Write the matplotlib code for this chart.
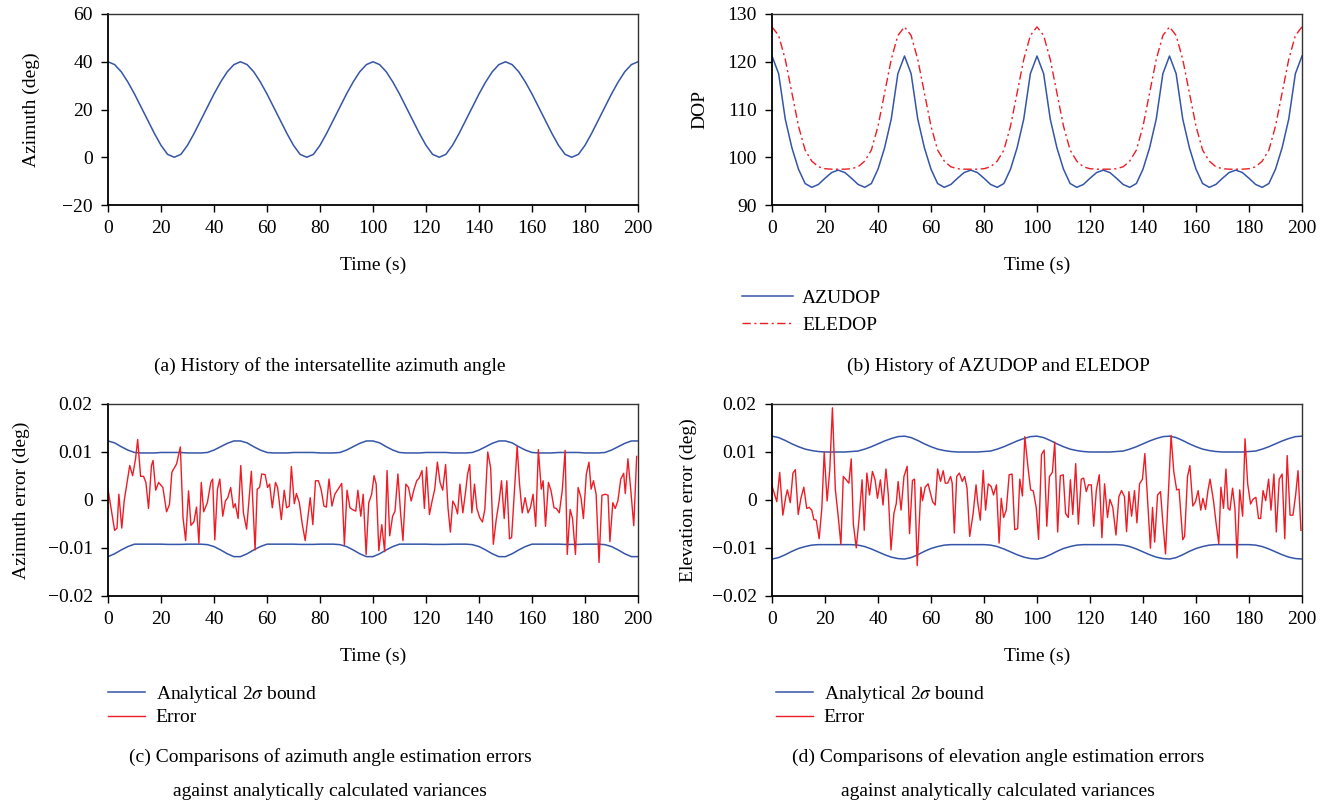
"""Intersatellite azimuth, DOP history and angle estimation errors (4 panels)."""

import matplotlib as mpl

mpl.use("Agg")

import matplotlib.pyplot as plt
import numpy as np
from matplotlib.lines import Line2D

plt.rcParams["font.family"] = ["Liberation Serif", "DejaVu Serif"]
plt.rcParams["mathtext.fontset"] = "stix"

BLUE = "#3555a8"
RED = "#ee1c25"

# ---- data ---------------------------------------------------------------
time_grid = np.arange(0, 200.01, 2.5)  # 81 samples, 2.5 s apart

azimuth_deg = [
    40.0, 38.8, 35.8, 31.5, 26.5, 21.0, 15.5, 10.0, 5.0, 1.2,
    0.0, 1.2, 5.0, 10.0, 15.5, 21.0, 26.5, 31.5, 35.8, 38.8,
    40.0, 38.8, 35.8, 31.5, 26.5, 21.0, 15.5, 10.0, 5.0, 1.2,
    0.0, 1.2, 5.0, 10.0, 15.5, 21.0, 26.5, 31.5, 35.8, 38.8,
    40.0, 38.8, 35.8, 31.5, 26.5, 21.0, 15.5, 10.0, 5.0, 1.2,
    0.0, 1.2, 5.0, 10.0, 15.5, 21.0, 26.5, 31.5, 35.8, 38.8,
    40.0, 38.8, 35.8, 31.5, 26.5, 21.0, 15.5, 10.0, 5.0, 1.2,
    0.0, 1.2, 5.0, 10.0, 15.5, 21.0, 26.5, 31.5, 35.8, 38.8,
    40.0,
]

azudop = [
    121.2, 117.5, 108.0, 102.0, 97.5, 94.5, 93.7, 94.3, 95.6, 96.8,
    97.3, 96.8, 95.6, 94.3, 93.7, 94.5, 97.5, 102.0, 108.0, 117.5,
    121.2, 117.5, 108.0, 102.0, 97.5, 94.5, 93.7, 94.3, 95.6, 96.8,
    97.3, 96.8, 95.6, 94.3, 93.7, 94.5, 97.5, 102.0, 108.0, 117.5,
    121.2, 117.5, 108.0, 102.0, 97.5, 94.5, 93.7, 94.3, 95.6, 96.8,
    97.3, 96.8, 95.6, 94.3, 93.7, 94.5, 97.5, 102.0, 108.0, 117.5,
    121.2, 117.5, 108.0, 102.0, 97.5, 94.5, 93.7, 94.3, 95.6, 96.8,
    97.3, 96.8, 95.6, 94.3, 93.7, 94.5, 97.5, 102.0, 108.0, 117.5,
    121.2,
]

eledop = [
    127.3, 125.5, 120.5, 113.5, 106.5, 101.5, 99.2, 98.0, 97.6, 97.5,
    97.5, 97.5, 97.6, 98.0, 99.2, 101.5, 106.5, 113.5, 120.5, 125.5,
    127.3, 125.5, 120.5, 113.5, 106.5, 101.5, 99.2, 98.0, 97.6, 97.5,
    97.5, 97.5, 97.6, 98.0, 99.2, 101.5, 106.5, 113.5, 120.5, 125.5,
    127.3, 125.5, 120.5, 113.5, 106.5, 101.5, 99.2, 98.0, 97.6, 97.5,
    97.5, 97.5, 97.6, 98.0, 99.2, 101.5, 106.5, 113.5, 120.5, 125.5,
    127.3, 125.5, 120.5, 113.5, 106.5, 101.5, 99.2, 98.0, 97.6, 97.5,
    97.5, 97.5, 97.6, 98.0, 99.2, 101.5, 106.5, 113.5, 120.5, 125.5,
    127.3,
]

# 2-sigma bounds, in millidegrees
az_upper_mdeg = [
    12.3, 11.9, 11.1, 10.4, 9.9, 9.8, 9.8, 9.8, 9.9, 9.9,
    9.9, 9.9, 9.8, 9.8, 9.8, 9.9, 10.4, 11.1, 11.8, 12.3,
    12.3, 11.9, 11.1, 10.4, 9.9, 9.8, 9.8, 9.8, 9.9, 9.9,
    9.9, 9.9, 9.8, 9.8, 9.8, 9.9, 10.4, 11.1, 11.8, 12.3,
    12.3, 11.9, 11.1, 10.4, 9.9, 9.8, 9.8, 9.8, 9.9, 9.9,
    9.9, 9.9, 9.8, 9.8, 9.8, 9.9, 10.4, 11.1, 11.8, 12.3,
    12.3, 11.9, 11.1, 10.4, 9.9, 9.8, 9.8, 9.8, 9.9, 9.9,
    9.9, 9.9, 9.8, 9.8, 9.8, 9.9, 10.4, 11.1, 11.8, 12.3,
    12.3,
]
az_lower_mdeg = [
    -11.8, -11.2, -10.4, -9.7, -9.2, -9.2, -9.2, -9.2, -9.2, -9.25,
    -9.25, -9.25, -9.2, -9.2, -9.2, -9.3, -9.7, -10.4, -11.2, -11.8,
    -11.8, -11.2, -10.4, -9.7, -9.2, -9.2, -9.2, -9.2, -9.2, -9.25,
    -9.25, -9.25, -9.2, -9.2, -9.2, -9.3, -9.7, -10.4, -11.2, -11.8,
    -11.8, -11.2, -10.4, -9.7, -9.2, -9.2, -9.2, -9.2, -9.2, -9.25,
    -9.25, -9.25, -9.2, -9.2, -9.2, -9.3, -9.7, -10.4, -11.2, -11.8,
    -11.8, -11.2, -10.4, -9.7, -9.2, -9.2, -9.2, -9.2, -9.2, -9.25,
    -9.25, -9.25, -9.2, -9.2, -9.2, -9.3, -9.7, -10.4, -11.2, -11.8,
    -11.8,
]
el_upper_mdeg = [
    13.3, 13.0, 12.4, 11.7, 11.1, 10.6, 10.3, 10.1, 10.0, 10.0,
    10.0, 10.0, 10.1, 10.2, 10.6, 11.1, 11.7, 12.3, 12.8, 13.2,
    13.3, 13.0, 12.4, 11.7, 11.1, 10.6, 10.3, 10.1, 10.0, 10.0,
    10.0, 10.0, 10.1, 10.2, 10.6, 11.1, 11.7, 12.3, 12.8, 13.2,
    13.3, 13.0, 12.4, 11.7, 11.1, 10.6, 10.3, 10.1, 10.0, 10.0,
    10.0, 10.0, 10.1, 10.2, 10.6, 11.1, 11.7, 12.3, 12.8, 13.2,
    13.3, 13.0, 12.4, 11.7, 11.1, 10.6, 10.3, 10.1, 10.0, 10.0,
    10.0, 10.0, 10.1, 10.2, 10.6, 11.1, 11.7, 12.3, 12.8, 13.2,
    13.3,
]
el_lower_mdeg = [
    -12.3, -12.0, -11.4, -10.7, -10.1, -9.7, -9.4, -9.3, -9.3, -9.3,
    -9.3, -9.3, -9.3, -9.4, -9.7, -10.2, -10.8, -11.4, -11.9, -12.2,
    -12.3, -12.0, -11.4, -10.7, -10.1, -9.7, -9.4, -9.3, -9.3, -9.3,
    -9.3, -9.3, -9.3, -9.4, -9.7, -10.2, -10.8, -11.4, -11.9, -12.2,
    -12.3, -12.0, -11.4, -10.7, -10.1, -9.7, -9.4, -9.3, -9.3, -9.3,
    -9.3, -9.3, -9.3, -9.4, -9.7, -10.2, -10.8, -11.4, -11.9, -12.2,
    -12.3, -12.0, -11.4, -10.7, -10.1, -9.7, -9.4, -9.3, -9.3, -9.3,
    -9.3, -9.3, -9.3, -9.4, -9.7, -10.2, -10.8, -11.4, -11.9, -12.2,
    -12.3,
]

# estimation errors (time in s, error in millidegrees)
az_err_time = [
    0.0, 2.5, 3.4, 4.1, 5.2, 6.1, 8.2, 9.3, 10.4, 11.2,
    12.3, 13.4, 14.3, 15.3, 16.4, 17.0, 18.0, 19.1, 20.7, 22.1,
    23.2, 24.1, 25.9, 27.3, 28.3, 29.3, 30.4, 31.3, 32.4, 33.4,
    34.3, 35.2, 36.1, 37.5, 38.8, 39.5, 40.3, 41.3, 42.2, 43.3,
    44.3, 45.2, 46.3, 47.3, 48.0, 49.1, 50.1, 51.1, 52.3, 54.1,
    55.5, 56.3, 57.2, 58.0, 59.3, 60.2, 61.0, 62.0, 63.2, 64.0,
    65.4, 66.5, 67.4, 68.4, 69.2, 70.3, 71.1, 72.2, 73.3, 74.4,
    76.3, 77.3, 78.3, 79.4, 80.4, 81.5, 82.4, 83.4, 84.5, 85.6,
    87.2, 88.2, 89.2, 90.2, 91.3, 92.6, 93.5, 94.3, 95.4, 96.3,
    97.4, 98.4, 99.5, 100.4, 101.2, 102.2, 103.3, 104.4, 105.3, 106.3,
    107.4, 108.3, 109.4, 110.4, 111.3, 112.4, 113.4, 114.4, 115.5, 116.5,
    117.4, 118.5, 119.4, 120.2, 121.3, 122.3, 123.3, 124.3, 125.3, 126.3,
    127.4, 128.3, 129.2, 130.1, 131.1, 131.9, 132.8, 133.9, 134.9, 135.7,
    136.5, 137.3, 138.3, 139.2, 140.3, 141.3, 142.2, 143.3, 144.4, 145.4,
    146.5, 147.6, 148.5, 149.5, 150.5, 151.5, 152.3, 153.4, 154.4, 155.3,
    156.3, 157.4, 158.5, 159.4, 160.4, 161.4, 162.4, 163.5, 164.2, 165.1,
    166.2, 167.2, 168.3, 169.2, 170.3, 171.4, 172.5, 173.3, 174.4, 175.3,
    176.4, 177.4, 178.5, 179.4, 180.5, 181.5, 182.3, 183.2, 184.2, 185.3,
    186.4, 187.7, 188.7, 189.4, 190.5, 191.4, 192.4, 193.5, 194.6, 195.2,
    196.2, 197.3, 198.4, 199.5,
]
az_err_mdeg = [
    2.25, -6.34, -5.85, 1.20, -5.85, -0.21, 7.18, 5.07, 8.59, 12.6,
    4.93, 4.93, 3.66, -1.76, 7.18, 8.24, 2.04, 3.66, 2.61, -2.46,
    -0.92, 5.77, 7.54, 11.06, -3.59, -8.45, 1.90, -5.28, -4.58, -1.48,
    -9.01, 3.66, -2.46, -0.56, 3.66, 4.37, -8.31, 2.25, 4.37, -3.38,
    -0.21, 0.49, 2.61, -1.62, -0.77, -3.87, 7.18, -2.68, -6.06, 5.99,
    -10.42, 2.25, 2.61, 5.42, 5.28, 2.61, 3.31, -1.62, 3.66, 2.61,
    -4.08, 2.04, -1.62, -1.27, 6.97, -0.77, 1.34, -0.56, -5.00, -8.45,
    0.49, -5.14, 4.01, 4.01, 2.25, -1.27, -1.48, 4.37, -1.27, 1.20,
    2.61, 3.45, -9.37, 2.04, -1.62, -2.11, -2.32, 2.04, -3.38, 1.20,
    -11.34, -0.56, 1.20, 5.07, 3.31, -10.56, -5.14, -10.77, 6.13, -7.46,
    -3.38, -2.32, 5.42, -2.68, -8.45, 3.31, 2.61, -0.21, 2.25, 4.01,
    4.58, 6.13, -1.76, 6.83, -3.03, -0.21, 2.25, 7.89, 3.66, 2.04,
    7.39, -1.62, -6.69, -0.21, -1.27, -2.89, 3.31, -2.68, 1.55, 5.42,
    7.39, -2.68, 3.31, -1.76, -3.73, -4.58, -1.97, 10.0, 6.69, -9.23,
    -4.08, -0.21, 4.01, -3.87, 4.01, -8.10, -7.82, 2.04, 11.20, 3.31,
    -2.68, 0.49, -2.68, -1.62, 1.20, -5.49, 10.49, 2.25, 4.01, -5.49,
    3.66, 1.90, -1.62, -1.76, -2.68, 1.90, 10.35, -11.34, -1.97, -3.87,
    -11.34, 2.61, 0.49, -3.87, 5.42, 7.89, 2.25, 4.01, 1.20, -13.03,
    0.99, 1.20, 0.99, -8.66, -0.56, -1.76, -0.21, 4.37, 5.56, 1.34,
    8.59, 1.90, -5.35, 9.08,
]

el_err_time = [
    0.0, 1.8, 2.9, 4.1, 5.2, 5.8, 6.9, 7.9, 8.8, 9.9,
    10.9, 12.0, 13.1, 14.0, 15.0, 15.8, 16.7, 17.8, 18.8, 19.7,
    20.8, 21.8, 22.8, 23.9, 25.0, 26.0, 26.9, 28.0, 29.0, 29.9,
    30.7, 31.8, 32.8, 34.0, 34.8, 35.8, 36.8, 37.9, 38.9, 39.8,
    40.9, 41.9, 43.0, 43.9, 44.9, 46.0, 46.9, 47.6, 48.7, 49.8,
    51.0, 51.9, 53.0, 53.8, 54.8, 56.2, 56.8, 57.8, 58.9, 59.8,
    60.6, 61.6, 62.5, 63.6, 64.6, 65.4, 66.3, 67.4, 68.0, 68.8,
    69.7, 70.7, 71.8, 72.7, 73.6, 74.6, 75.9, 77.0, 77.6, 78.6,
    79.7, 80.6, 81.6, 82.7, 83.6, 84.7, 85.7, 86.5, 87.4, 88.4,
    89.5, 90.6, 91.6, 92.7, 93.5, 94.5, 95.4, 96.7, 97.6, 98.6,
    99.7, 100.6, 101.7, 102.7, 103.7, 104.7, 105.8, 106.7, 107.8, 108.8,
    109.9, 110.8, 111.8, 112.6, 113.5, 114.6, 115.6, 116.7, 117.6, 118.6,
    119.4, 120.5, 121.4, 122.4, 123.5, 124.5, 125.5, 126.6, 127.5, 128.6,
    129.8, 130.9, 131.9, 133.0, 133.8, 134.7, 135.7, 136.8, 137.7, 138.7,
    139.8, 140.7, 141.7, 142.8, 143.6, 144.4, 145.5, 146.6, 147.4, 148.5,
    149.6, 150.6, 151.6, 152.7, 153.6, 155.0, 155.7, 156.8, 157.7, 158.8,
    159.8, 160.8, 161.8, 162.6, 163.6, 164.5, 165.3, 166.6, 167.6, 168.6,
    169.4, 170.4, 171.3, 172.1, 172.8, 173.8, 174.7, 175.5, 176.5, 177.6,
    178.5, 179.5, 180.6, 181.5, 182.6, 183.6, 184.4, 185.3, 186.3, 187.4,
    188.3, 189.4, 190.3, 191.4, 192.5, 193.5, 194.4, 195.5, 196.6, 197.6,
    198.5, 199.6,
]
el_err_mdeg = [
    2.95, -0.35, 5.75, -3.16, 0.70, 2.11, -0.56, 5.61, 6.32, -3.02,
    0.35, 2.67, -1.75, -1.54, -2.11, -4.07, -4.21, -8.07, -1.75, 9.96,
    -0.21, 6.32, 19.2, 2.25, -3.51, -9.26, 4.91, 4.21, 3.51, 8.56,
    -5.05, -9.96, -4.21, 4.21, -6.32, 5.61, 1.05, 5.96, 4.21, 0.35,
    4.21, -1.05, 6.46, 1.05, -10.39, -2.81, -0.70, 3.86, -2.11, 4.91,
    7.02, -7.02, 4.07, 4.35, -13.68, 2.67, -0.14, 2.67, 3.37, 1.40,
    -0.35, -1.05, 6.46, 3.86, 6.11, 3.51, 3.51, 4.91, 3.51, -6.88,
    4.91, 5.61, 3.86, 4.91, 2.46, -7.58, -2.81, 3.16, -0.35, -4.21,
    6.18, -2.11, 3.37, 2.81, 1.05, 3.16, -8.98, 0.35, -3.65, -2.11,
    5.26, 5.40, -6.18, -5.96, 4.35, 0.84, 13.19, 6.32, 2.11, 1.89,
    -1.54, -8.21, 9.47, 10.39, -5.47, 4.91, 5.75, 12.07, -6.67, 5.05,
    5.26, -2.81, -3.65, 4.21, -3.02, 7.58, -5.05, 4.35, 4.56, 1.75,
    3.16, 3.16, -5.47, 2.11, 5.26, -7.86, 3.37, -3.65, 0.14, -1.54,
    -7.30, 0.70, 1.96, 0.70, -6.60, 1.75, -3.37, 1.96, -4.77, 3.37,
    4.35, 9.68, 0.35, -10.04, -1.54, -8.77, 1.05, 1.75, -4.07, -11.23,
    1.75, 13.47, 5.96, 2.11, 2.25, -8.28, -7.58, 4.91, 7.16, -1.26,
    -0.35, 1.96, -2.11, 0.35, -1.96, 1.96, 4.35, -0.14, -4.91, -9.12,
    2.67, -1.75, 6.46, -1.75, -2.11, 2.46, -1.75, -12.07, 2.11, -3.37,
    12.77, 3.37, -0.84, 0.14, 0.56, -3.86, -3.86, 1.96, -0.14, 4.35,
    -2.11, 5.40, -6.67, 4.35, 5.40, -8.07, 9.26, -3.16, -3.16, 1.05,
    6.11, -6.32,
]

time_ticks = list(range(0, 201, 20))
err_ticks = [-0.02, -0.01, 0.0, 0.01, 0.02]
err_ticklabels = ["\u22120.02", "\u22120.01", "0", "0.01", "0.02"]

FS = 14
W, H = 1329, 808


def frac_rect(left_px, top_px, width_px, height_px):
    return [left_px / W, 1 - (top_px + height_px) / H, width_px / W, height_px / H]


def style_axes(ax, ylabel, ylabel_x):
    ax.set_xlim(0, 200)
    ax.set_xticks(time_ticks)
    ax.tick_params(direction="out", length=5, width=1.0, pad=6,
                   labelsize=FS, top=False, right=False)
    for side in ("left", "bottom"):
        ax.spines[side].set_linewidth(1.3)
    for side in ("top", "right"):
        ax.spines[side].set_linewidth(1.0)
        ax.spines[side].set_color("#333333")
    ax.set_xlabel("Time (s)", fontsize=FS)
    ax.xaxis.set_label_coords(0.5, -0.27)
    ax.set_ylabel(ylabel, fontsize=FS)
    ax.yaxis.set_label_coords(ylabel_x, 0.5)


fig = plt.figure(figsize=(W / 100, H / 100), dpi=100)

ax_a = fig.add_axes(frac_rect(108, 14, 530, 191))
ax_b = fig.add_axes(frac_rect(772, 14, 530, 191))
ax_c = fig.add_axes(frac_rect(108, 404, 530, 192))
ax_d = fig.add_axes(frac_rect(772, 404, 530, 192))

# (a) azimuth
ax_a.plot(time_grid, azimuth_deg, color=BLUE, lw=1.1)
ax_a.set_ylim(-20, 60)
ax_a.set_yticks([-20, 0, 20, 40, 60])
style_axes(ax_a, "Azimuth (deg)", -0.128)

# (b) DOP
ax_b.plot(time_grid, azudop, color=BLUE, lw=1.1)
ax_b.plot(time_grid, eledop, color=RED, lw=1.0, ls=(0, (6, 2.5, 1.5, 2.5)))
ax_b.set_ylim(90, 130)
ax_b.set_yticks([90, 100, 110, 120, 130])
style_axes(ax_b, "DOP", -0.12)

# (c) azimuth error
t = time_grid
ax_c.plot(t, np.array(az_upper_mdeg) * 1e-3, color=BLUE, lw=1.1)
ax_c.plot(t, np.array(az_lower_mdeg) * 1e-3, color=BLUE, lw=1.1)
ax_c.plot(az_err_time, np.array(az_err_mdeg) * 1e-3, color=RED, lw=1.0)
ax_c.set_ylim(-0.02, 0.02)
ax_c.set_yticks(err_ticks)
ax_c.set_yticklabels(err_ticklabels)
style_axes(ax_c, "Azimuth error (deg)", -0.148)

# (d) elevation error
ax_d.plot(t, np.array(el_upper_mdeg) * 1e-3, color=BLUE, lw=1.1)
ax_d.plot(t, np.array(el_lower_mdeg) * 1e-3, color=BLUE, lw=1.1)
ax_d.plot(el_err_time, np.array(el_err_mdeg) * 1e-3, color=RED, lw=1.0)
ax_d.set_ylim(-0.02, 0.02)
ax_d.set_yticks(err_ticks)
ax_d.set_yticklabels(err_ticklabels)
style_axes(ax_d, "Elevation error (deg)", -0.142)

# legends below the panels
dop_handles = [
    Line2D([], [], color=BLUE, lw=1.1),
    Line2D([], [], color=RED, lw=1.0, ls=(0, (6, 2.5, 1.5, 2.5))),
]
fig.legend(dop_handles, ["AZUDOP", "ELEDOP"], loc="upper left",
           bbox_to_anchor=(742 / W, 1 - 289 / H), frameon=False, fontsize=FS,
           handlelength=2.6, handletextpad=0.5, labelspacing=0.5,
           borderpad=0, borderaxespad=0)

err_handles = [Line2D([], [], color=BLUE, lw=1.1), Line2D([], [], color=RED, lw=1.0)]
err_labels = [r"Analytical 2$\sigma$ bound", "Error"]
for x0 in (108, 776):
    fig.legend(err_handles, err_labels, loc="upper left",
               bbox_to_anchor=(x0 / W, 1 - 684 / H), frameon=False, fontsize=FS,
               handlelength=1.9, handletextpad=0.55, labelspacing=0.2,
               borderpad=0, borderaxespad=0)

# captions
fig.text(330 / W, 1 - 366 / H, "(a) History of the intersatellite azimuth angle",
         ha="center", va="center", fontsize=FS)
fig.text(998 / W, 1 - 366 / H, "(b) History of AZUDOP and ELEDOP",
         ha="center", va="center", fontsize=FS)
fig.text(330 / W, 1 - 757 / H, "(c) Comparisons of azimuth angle estimation errors",
         ha="center", va="center", fontsize=FS)
fig.text(330 / W, 1 - 792 / H, "against analytically calculated variances",
         ha="center", va="center", fontsize=FS)
fig.text(998 / W, 1 - 757 / H, "(d) Comparisons of elevation angle estimation errors",
         ha="center", va="center", fontsize=FS)
fig.text(998 / W, 1 - 792 / H, "against analytically calculated variances",
         ha="center", va="center", fontsize=FS)

fig.savefig("out.png", dpi=100)
plt.close(fig)
